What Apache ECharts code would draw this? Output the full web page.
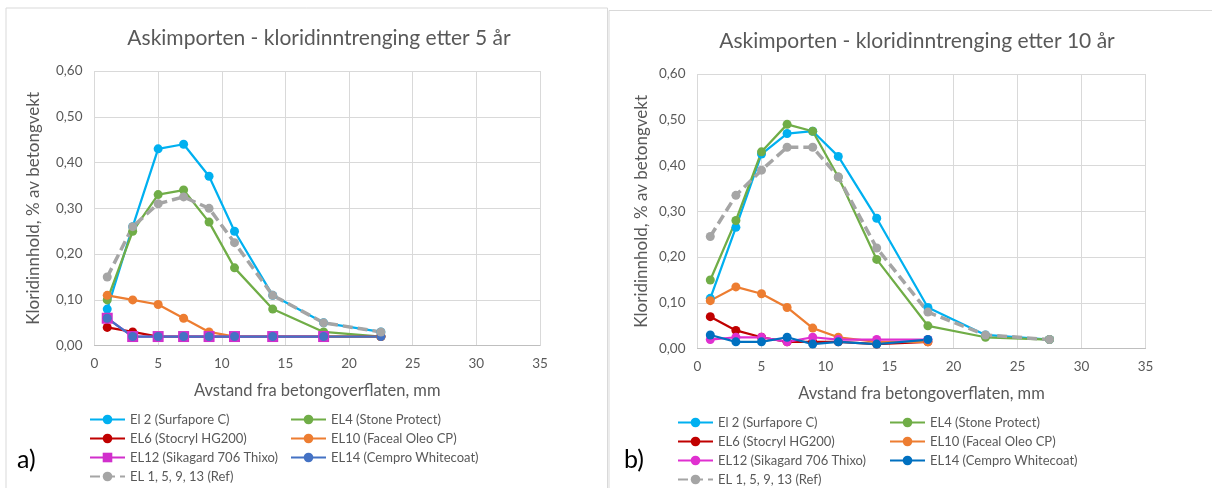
<!DOCTYPE html>
<html>
<head>
<meta charset="utf-8">
<title>Askimporten - kloridinntrenging</title>
<script src="https://cdn.jsdelivr.net/npm/echarts@6/dist/echarts.min.js"></script>
<style>
html,body{margin:0;padding:0;background:#fff;}
#main{width:1212px;height:488px;}
</style>
</head>
<body>
<div id="main"></div>
<script>
// avstand fra overflaten, mm
var dist5 = [1, 3, 5, 7, 9, 11, 14, 18, 22.5];
var dist10 = [1, 3, 5, 7, 9, 11, 14, 18, 22.5, 27.5];

// etter 5 år
var el2_5  = [0.08, 0.26, 0.43, 0.44, 0.37, 0.25, 0.11, 0.05, 0.03];
var el4_5  = [0.10, 0.25, 0.33, 0.34, 0.27, 0.17, 0.08, 0.03, 0.02];
var el6_5  = [0.04, 0.03, 0.02, 0.02, 0.02, 0.02, 0.02, 0.02, 0.02];
var el10_5 = [0.11, 0.10, 0.09, 0.06, 0.03, 0.02, 0.02, 0.02, 0.02];
var el12_5 = [0.06, 0.02, 0.02, 0.02, 0.02, 0.02, 0.02, 0.02];
var el14_5 = [0.06, 0.02, 0.02, 0.02, 0.02, 0.02, 0.02, 0.02, 0.02];
var ref_5  = [0.15, 0.26, 0.31, 0.325, 0.30, 0.225, 0.11, 0.05, 0.03];

// etter 10 år
var el2_10  = [0.11, 0.265, 0.425, 0.47, 0.475, 0.42, 0.285, 0.09, 0.03, 0.02];
var el4_10  = [0.15, 0.28, 0.43, 0.49, 0.475, 0.375, 0.195, 0.05, 0.025, 0.02];
var el6_10  = [0.07, 0.04, 0.025, 0.015, 0.015, 0.015, 0.01, 0.015];
var el10_10 = [0.105, 0.135, 0.12, 0.09, 0.045, 0.025, 0.015, 0.015];
var el12_10 = [0.02, 0.025, 0.025, 0.015, 0.025, 0.02, 0.02, 0.02];
var el14_10 = [0.03, 0.015, 0.015, 0.025, 0.01, 0.015, 0.01, 0.02];
var ref_10  = [0.245, 0.335, 0.39, 0.44, 0.44, 0.375, 0.22, 0.08, 0.03, 0.02];

var names = ['El 2 (Surfapore C)', 'EL4 (Stone Protect)', 'EL6 (Stocryl HG200)',
    'EL10 (Faceal Oleo CP)', 'EL12 (Sikagard 706 Thixo)', 'EL14 (Cempro Whitecoat)',
    'EL 1, 5, 9, 13 (Ref)'];

var FONT = 'Lato';
var GREY = '#595959';

//x,y par
function pairs(xs, ys){
    var out = [];
    for(var i = 0; i < ys.length; i++){
        out.push([xs[i], ys[i]]);
    }
    return out;
}

function line(name, xs, ys, color, idx, symbol, dashed){
    return {
        name: name,
        type: 'line',
        xAxisIndex: idx,
        yAxisIndex: idx,
        data: pairs(xs, ys),
        symbol: symbol || 'circle',
        symbolSize: symbol == 'rect' ? 11 : 9,
        color: color,
        lineStyle: {width: dashed ? 3.5 : 2.25, color: color, type: dashed ? [10, 5] : 'solid'},
        itemStyle: {color: color},
        animation: false
    };
}

function xAx(idx){
    return {
        type: 'value', gridIndex: idx, min: 0, max: 35, interval: 5,
        name: 'Avstand fra betongoverflaten, mm',
        nameLocation: 'middle', nameGap: 36,
        nameTextStyle: {fontFamily: FONT, fontSize: 16.5, color: GREY},
        axisLine: {lineStyle: {color: '#BFBFBF'}},
        axisTick: {show: false},
        axisLabel: {fontFamily: FONT, fontSize: 13.5, color: GREY, margin: 11},
        splitLine: {lineStyle: {color: '#D9D9D9'}}
    };
}

function yAx(idx, gap){
    return {
        type: 'value', gridIndex: idx, min: 0, max: 0.6, interval: 0.1,
        name: 'Kloridinnhold, % av betongvekt',
        nameLocation: 'middle', nameGap: gap,
        nameTextStyle: {fontFamily: FONT, fontSize: 17, color: GREY},
        axisLine: {show: false},
        axisTick: {show: false},
        axisLabel: {
            fontFamily: FONT, fontSize: 13.5, color: GREY, margin: 12,
            formatter: function(v){ return v.toFixed(2).replace('.', ','); }
        },
        splitLine: {lineStyle: {color: '#D9D9D9'}}
    };
}

function legend(data, left, top){
    return {
        data: data, orient: 'vertical', left: left, top: top,
        padding: 0, itemGap: 6, itemWidth: 35, itemHeight: 12,
        selectedMode: false,
        textStyle: {fontFamily: FONT, fontSize: 13, color: GREY}
    };
}

// høyre figur: egne navn (mellomrom bak) slik at legend henter riktig farge/symbol
var names10 = names.map(function(n){ return n + ' '; });

var colors5  = ['#00B0F0', '#70AD47', '#C00000', '#ED7D31', '#D12FCC', '#4472C4', '#A5A5A5'];
var colors10 = ['#00B0F0', '#70AD47', '#C00000', '#ED7D31', '#E030D0', '#0070C0', '#A5A5A5'];

var series = [
    line(names[0], dist5, el2_5, colors5[0], 0),
    line(names[1], dist5, el4_5, colors5[1], 0),
    line(names[2], dist5, el6_5, colors5[2], 0),
    line(names[3], dist5, el10_5, colors5[3], 0),
    line(names[4], dist5, el12_5, colors5[4], 0, 'rect'),
    line(names[5], dist5, el14_5, colors5[5], 0),
    line(names[6], dist5, ref_5, colors5[6], 0, 'circle', true),

    line(names10[0], dist10, el2_10, colors10[0], 1),
    line(names10[1], dist10, el4_10, colors10[1], 1),
    line(names10[2], dist10, el6_10, colors10[2], 1),
    line(names10[3], dist10, el10_10, colors10[3], 1),
    line(names10[4], dist10, el12_10, colors10[4], 1),
    line(names10[5], dist10, el14_10, colors10[5], 1),
    line(names10[6], dist10, ref_10, colors10[6], 1, 'circle', true)
];

var chart = echarts.init(document.getElementById('main'));
var option = {
    backgroundColor: '#fff',
    animation: false,
    title: [
        {text: 'Askimporten - kloridinntrenging etter 5 år', left: 314, top: 23, textAlign: 'center',
            textStyle: {fontFamily: FONT, fontSize: 21, fontWeight: 'normal', color: GREY}},
        {text: 'Askimporten - kloridinntrenging etter 10 år', left: 912, top: 26, textAlign: 'center',
            textStyle: {fontFamily: FONT, fontSize: 21, fontWeight: 'normal', color: GREY}}
    ],
    grid: [
        {left: 94.5, top: 71, width: 445.5, height: 274.7},
        {left: 697.5, top: 74, width: 448, height: 274.7}
    ],
    xAxis: [xAx(0), xAx(1)],
    yAxis: [yAx(0, 52), yAx(1, 47)],
    legend: [
        legend([names[0], names[2], names[4], names[6]], 89, 413),
        legend([names[1], names[3], names[5]], 290, 413),
        legend([names10[0], names10[2], names10[4], names10[6]], 677, 416),
        legend([names10[1], names10[3], names10[5]], 889, 416)
    ],
    graphic: [
        //rammer
        {type: 'rect', shape: {x: 6, y: 8, width: 601.5, height: 500}, silent: true,
            style: {fill: null, stroke: '#D9D9D9', lineWidth: 1}},
        {type: 'rect', shape: {x: 609, y: 10.5, width: 620, height: 500}, silent: true,
            style: {fill: null, stroke: '#D9D9D9', lineWidth: 1}},
        {type: 'text', left: 17, top: 447, style: {text: 'a)', fontFamily: FONT, fontSize: 25, fill: '#000'}},
        {type: 'text', left: 624, top: 447, style: {text: 'b)', fontFamily: FONT, fontSize: 25, fill: '#000'}}
    ],
    series: series
};
chart.setOption(option);
</script>
</body>
</html>
